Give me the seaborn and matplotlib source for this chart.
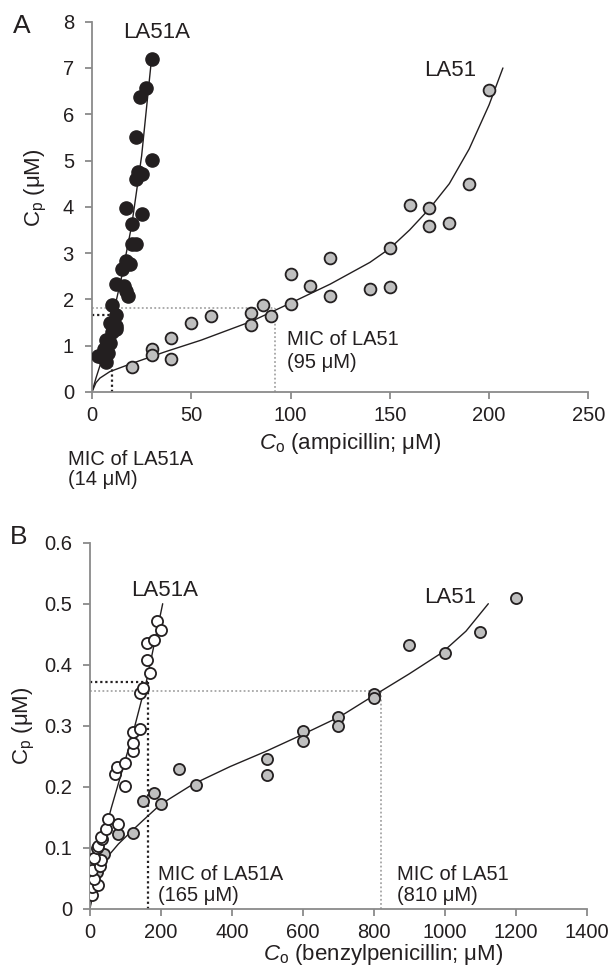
import numpy as np
import pandas as pd
import seaborn as sns
import matplotlib.pyplot as plt
from matplotlib.ticker import FuncFormatter

# ---- panel A: ampicillin ----
a_mut_x = [3, 5, 6, 7, 7, 8, 9, 9, 10, 10, 11, 12, 12, 12, 12, 15, 16, 17, 18, 17,
           19, 20, 22, 20, 17, 25, 22, 23, 25, 30, 22, 24, 27, 30]
a_mut_y = [0.78, 0.75, 0.92, 0.65, 1.13, 0.85, 1.05, 1.5, 1.3, 1.88, 1.45, 1.35, 1.42, 1.67, 2.33,
           2.65, 2.28, 2.18, 2.07, 2.83, 2.77, 3.2, 3.2, 3.62, 3.97, 3.85, 4.6, 4.75, 4.72, 5.02,
           5.5, 6.37, 6.57, 7.2]
a_wt_x = [20, 30, 30, 40, 40, 50, 60, 80, 80, 86, 90, 100, 100, 110, 120, 120, 140, 150, 150,
          160, 170, 170, 180, 190, 200]
a_wt_y = [0.55, 0.93, 0.8, 1.17, 0.71, 1.48, 1.65, 1.7, 1.45, 1.88, 1.65, 1.9, 2.55, 2.28, 2.9,
          2.08, 2.22, 2.27, 3.1, 4.05, 3.98, 3.58, 3.66, 4.5, 6.53]
# fitted curves
a_mut_fit_x = [0, 2, 5, 10, 15, 20, 25, 30]
a_mut_fit_y = [0, 0.3, 0.7, 1.55, 2.5, 3.6, 5.1, 7.2]
a_wt_fit_x = [0, 2, 4, 9, 19, 37, 55, 80, 100, 120, 140, 150, 160, 170, 180, 190, 200, 207]
a_wt_fit_y = [0, 0.2, 0.3, 0.44, 0.6, 0.87, 1.12, 1.52, 1.92, 2.33, 2.8, 3.1, 3.5, 3.96, 4.5,
              5.25, 6.2, 7.0]
a_mic_mut = (10, 1.67)
a_mic_wt = (92, 1.82)

# ---- panel B: benzylpenicillin ----
b_mut_x = [5, 5, 24, 12, 7, 28, 30, 12, 20, 24, 35, 30, 45, 78, 50, 100, 70, 77, 98, 120,
           120, 120, 140, 140, 150, 170, 160, 160, 180, 190, 200]
b_mut_y = [0.022, 0.036, 0.039, 0.048, 0.063, 0.07, 0.08, 0.083, 0.1, 0.103, 0.114, 0.117,
           0.13, 0.139, 0.147, 0.201, 0.221, 0.233, 0.239, 0.258, 0.272, 0.29, 0.294, 0.353,
           0.362, 0.387, 0.408, 0.436, 0.441, 0.472, 0.457]
b_wt_x = [20, 40, 80, 120, 150, 180, 200, 250, 300, 500, 500, 600, 600, 700, 700, 800, 800,
          900, 1000, 1100, 1200]
b_wt_y = [0.06, 0.09, 0.123, 0.124, 0.177, 0.19, 0.172, 0.229, 0.203, 0.246, 0.22, 0.291,
          0.275, 0.315, 0.3, 0.352, 0.346, 0.433, 0.42, 0.453, 0.51]
b_mut_fit_x = [0, 5, 12, 20, 37, 60, 90, 120, 160, 205]
b_mut_fit_y = [0, 0.03, 0.06, 0.08, 0.115, 0.165, 0.225, 0.285, 0.375, 0.5]
b_wt_fit_x = [0, 5, 14, 42, 80, 117, 150, 199, 290, 395, 496, 597, 705, 796, 900, 993, 1060, 1123]
b_wt_fit_y = [0, 0.015, 0.036, 0.08, 0.106, 0.127, 0.145, 0.171, 0.204, 0.233, 0.258, 0.285,
              0.315, 0.348, 0.385, 0.42, 0.455, 0.5]
b_mic_mut = (163, 0.372)
b_mic_wt = (821, 0.357)

sns.set_style("ticks")
plt.rcParams["font.family"] = ["Liberation Sans", "DejaVu Sans"]
plt.rcParams["mathtext.fontset"] = "custom"
plt.rcParams["mathtext.rm"] = "Liberation Sans"
plt.rcParams["mathtext.it"] = "Liberation Sans:italic"

INK = "#231f20"
SPINE = "#8a8a8a"
GREY = "#bfbfbf"
DOT_GREY = "#a6a6a6"

fig = plt.figure(figsize=(6.1, 9.77), dpi=100)
ax1 = fig.add_axes([0.1508, 0.5988, 0.8136, 0.3790])
ax2 = fig.add_axes([0.1475, 0.0699, 0.8141, 0.3746])


def style(ax):
    sns.despine(ax=ax)
    for s in ("left", "bottom"):
        ax.spines[s].set_color(SPINE)
        ax.spines[s].set_linewidth(1.3)
    ax.tick_params(axis="both", direction="out", length=5, width=1.3, color=SPINE,
                   labelcolor=INK, labelsize=14.5)
    ax.tick_params(axis="y", pad=8)
    ax.tick_params(axis="x", pad=5)
    ax.yaxis.set_major_formatter(FuncFormatter(lambda v, p: "%g" % round(v, 3)))


def mic_lines(ax, xy, color, lw):
    x, y = xy
    ax.plot([0, x], [y, y], color=color, lw=lw, ls=(0, (1, 1.3)), zorder=1)
    ax.plot([x, x], [0, y], color=color, lw=lw, ls=(0, (1, 1.3)), zorder=1)


# ---- panel A ----
mic_lines(ax1, a_mic_wt, DOT_GREY, 1.3)
mic_lines(ax1, a_mic_mut, INK, 1.6)
sns.lineplot(x=a_mut_fit_x, y=a_mut_fit_y, ax=ax1, color=INK, lw=1.0, estimator=None, zorder=2)
sns.lineplot(x=a_wt_fit_x, y=a_wt_fit_y, ax=ax1, color=INK, lw=1.0, estimator=None, zorder=2)
sns.scatterplot(x=a_wt_x, y=a_wt_y, ax=ax1, s=72, color=GREY, edgecolor=INK, linewidth=1.3, zorder=3)
sns.scatterplot(x=a_mut_x, y=a_mut_y, ax=ax1, s=90, color=INK, edgecolor=INK, linewidth=1.0, zorder=4)
ax1.set_xlim(0, 250)
ax1.set_ylim(0, 8)
ax1.set_xticks(np.arange(0, 251, 50))
ax1.set_yticks(np.arange(0, 9, 1))
style(ax1)
ax1.set_xlabel(r"$C_\mathrm{o}$ (ampicillin; μM)", fontsize=16, color=INK)
ax1.set_ylabel(r"$\mathrm{C}_\mathrm{p}$ (μM)", fontsize=16, color=INK)
ax1.xaxis.set_label_coords(0.52, -0.105)
ax1.yaxis.set_label_coords(-0.087, 0.551)

ax1.text(32.7, 7.77, "LA51A", fontsize=16, color=INK, ha="center", va="center")
ax1.text(180.6, 6.95, "LA51", fontsize=16, color=INK, ha="center", va="center")
ax1.text(98.4, 1.015, "MIC of LA51", fontsize=14.5, color=INK, ha="left", va="baseline")
ax1.text(98.4, 0.518, "(95 μM)", fontsize=14.5, color=INK, ha="left", va="baseline")
ax1.text(-12.1, -1.577, "MIC of LA51A", fontsize=14.5, color=INK, ha="left", va="baseline",
         clip_on=False)
ax1.text(-12.1, -2.009, "(14 μM)", fontsize=14.5, color=INK, ha="left", va="baseline",
         clip_on=False)

# ---- panel B ----
mic_lines(ax2, b_mic_wt, DOT_GREY, 1.3)
mic_lines(ax2, b_mic_mut, INK, 1.6)
sns.lineplot(x=b_mut_fit_x, y=b_mut_fit_y, ax=ax2, color=INK, lw=1.0, estimator=None, zorder=2)
sns.lineplot(x=b_wt_fit_x, y=b_wt_fit_y, ax=ax2, color=INK, lw=1.0, estimator=None, zorder=2)
sns.scatterplot(x=b_wt_x, y=b_wt_y, ax=ax2, s=64, color=GREY, edgecolor=INK, linewidth=1.3, zorder=3)
sns.scatterplot(x=b_mut_x, y=b_mut_y, ax=ax2, s=64, color="white", edgecolor=INK, linewidth=1.3, zorder=4)
ax2.set_xlim(0, 1400)
ax2.set_ylim(0, 0.6)
ax2.set_xticks(np.arange(0, 1401, 200))
ax2.set_yticks(np.arange(0, 0.61, 0.1))
style(ax2)
ax2.set_xlabel(r"$C_\mathrm{o}$ (benzylpenicillin; μM)", fontsize=16, color=INK)
ax2.set_ylabel(r"$\mathrm{C}_\mathrm{p}$ (μM)", fontsize=16, color=INK)
ax2.xaxis.set_label_coords(0.59, -0.09)
ax2.yaxis.set_label_coords(-0.107, 0.5)

ax2.text(211, 0.522, "LA51A", fontsize=16, color=INK, ha="center", va="center")
ax2.text(1015, 0.511, "LA51", fontsize=16, color=INK, ha="center", va="center")
ax2.text(193, 0.047, "MIC of LA51A", fontsize=14.5, color=INK, ha="left", va="baseline")
ax2.text(193, 0.0126, "(165 μM)", fontsize=14.5, color=INK, ha="left", va="baseline")
ax2.text(865, 0.047, "MIC of LA51", fontsize=14.5, color=INK, ha="left", va="baseline")
ax2.text(865, 0.0126, "(810 μM)", fontsize=14.5, color=INK, ha="left", va="baseline")

fig.text(0.0213, 0.966, "A", fontsize=19, color=INK, ha="left", va="baseline")
fig.text(0.0164, 0.443, "B", fontsize=19, color=INK, ha="left", va="baseline")

fig.savefig("out.png", dpi=100)
